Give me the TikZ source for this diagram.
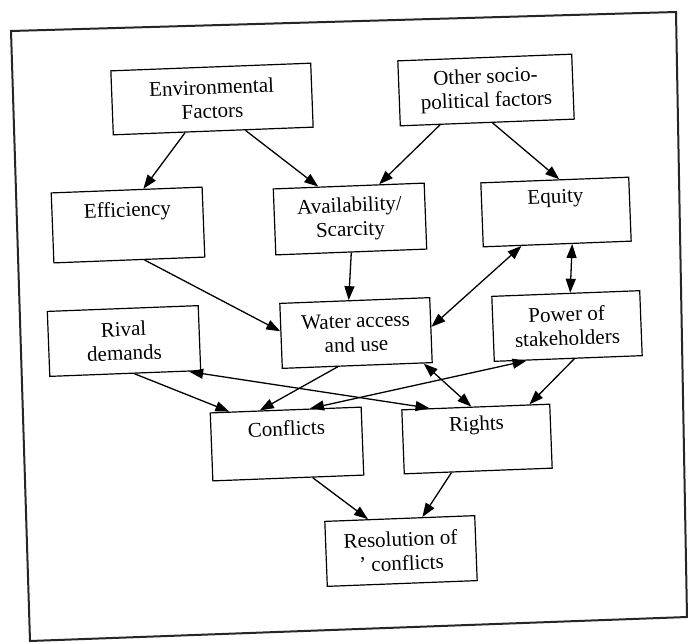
\documentclass[tikz,border=0pt]{standalone}
\usepackage{fontspec}
\setmainfont{Liberation Serif}
\usetikzlibrary{arrows.meta,calc}
\begin{document}
\begin{tikzpicture}[x=1pt,y=-1pt,
  box/.style={draw, line width=1.2pt, rotate=2.2, inner sep=0pt,
    minimum width=150pt, minimum height=65pt, align=center,
    font=\fontsize{21}{24}\selectfont},
  arr/.style={line width=1.3pt, -{Triangle[length=14pt,width=10pt]}},
  dbl/.style={line width=1.3pt, {Triangle[length=14pt,width=10pt]}-{Triangle[length=14pt,width=10pt]}},
  frame/.style={line width=2pt, black!85}]
\useasboundingbox (0,0) rectangle (688,643);
\fill[white] (0,0) rectangle (688,643);
% frame
\draw[frame] (11,31) -- (676,12) -- (687,617) -- (30,641) -- cycle;
% boxes
\node[box, minimum width=200pt, minimum height=64pt] (env) at (212,99) {Environmental\\Factors};
\node[box, minimum width=174pt] (other) at (486,90) {Other socio-\\political factors};
\node[box, minimum width=151pt, minimum height=70pt] (eff) at (128,225) {Efficiency\\\strut};
\node[box, minimum width=151pt, minimum height=66pt] (avail) at (350,219) {Availability/\\Scarcity};
\node[box, minimum width=148pt, minimum height=64pt] (equity) at (556,212) {Equity\\\strut};
\node[box] (water) at (356,333) {Water access\\and use};
\node[box, minimum width=151pt] (rival) at (124,341) {Rival\\demands};
\node[box, minimum width=148pt] (power) at (567,326) {Power of\\stakeholders};
\node[box, minimum width=151pt, minimum height=68pt] (confl) at (287,444) {Conflicts\\\strut};
\node[box, minimum width=148pt, minimum height=64pt] (rights) at (477,439) {Rights\\\strut};
\node[box] (res) at (401,551) {Resolution of\\\textquoteright\ conflicts};
% connectors
\draw[arr] ($(env.south west)!0.36!(env.south east)$) -- ($(eff.north west)!0.61!(eff.north east)$);
\draw[arr] ($(env.south west)!0.66!(env.south east)$) -- ($(avail.north west)!0.30!(avail.north east)$);
\draw[arr] ($(other.south west)!0.23!(other.south east)$) -- ($(avail.north west)!0.70!(avail.north east)$);
\draw[arr] ($(other.south west)!0.53!(other.south east)$) -- ($(equity.north west)!0.53!(equity.north east)$);
\draw[arr] ($(eff.south west)!0.60!(eff.south east)$) -- ($(water.north west)!0.43!(water.south west)$);
\draw[arr] ($(avail.south west)!0.50!(avail.south east)$) -- ($(water.north west)!0.46!(water.north east)$);
\draw[dbl] ($(equity.south west)!0.26!(equity.south east)$) -- ($(water.north east)!0.45!(water.south east)$);
\draw[dbl] ($(equity.south west)!0.60!(equity.south east)$) -- ($(power.north west)!0.53!(power.north east)$);
\draw[arr] ($(water.south west)!0.37!(water.south east)$) -- ($(confl.north west)!0.33!(confl.north east)$);
\draw[dbl] ($(water.south west)!0.94!(water.south east)$) -- ($(rights.north west)!0.47!(rights.north east)$);
\draw[arr] ($(rival.south west)!0.56!(rival.south east)$) -- ($(confl.north west)!0.13!(confl.north east)$);
\draw[dbl] ($(rival.south west)!0.92!(rival.south east)$) -- ($(rights.north west)!0.19!(rights.north east)$);
\draw[dbl] ($(confl.north west)!0.66!(confl.north east)$) -- ($(power.south west)!0.22!(power.south east)$);
\draw[arr] ($(power.south west)!0.54!(power.south east)$) -- ($(rights.north west)!0.86!(rights.north east)$);
\draw[arr] ($(confl.south west)!0.66!(confl.south east)$) -- ($(res.north west)!0.29!(res.north east)$);
\draw[arr] ($(rights.south west)!0.32!(rights.south east)$) -- ($(res.north west)!0.65!(res.north east)$);
\end{tikzpicture}
\end{document}
